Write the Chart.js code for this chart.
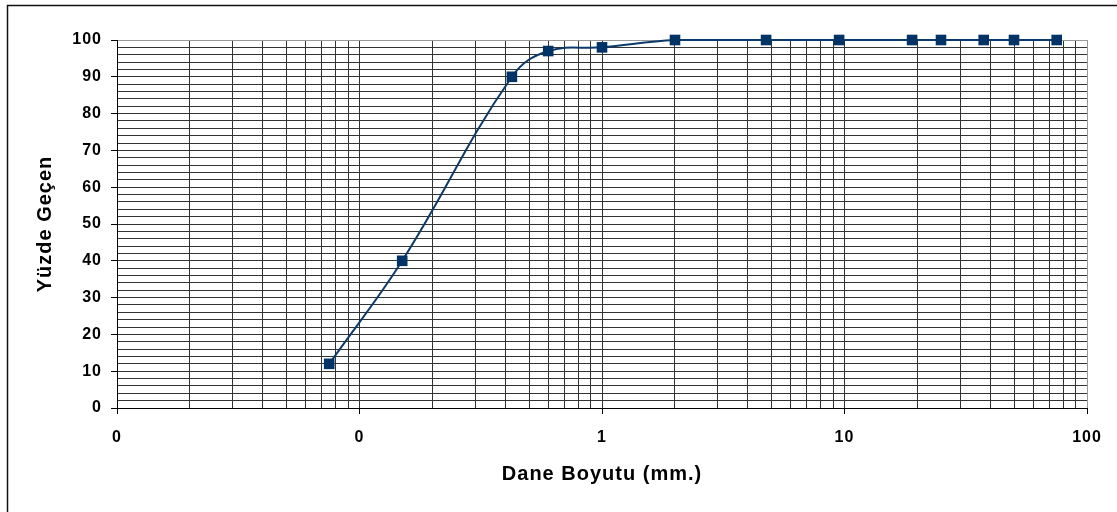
<!DOCTYPE html>
<html>
<head>
<meta charset="utf-8">
<script src="https://cdn.jsdelivr.net/npm/chart.js@4/dist/chart.umd.min.js"></script>
<style>
  html, body { margin: 0; padding: 0; background: #fff; }
  #wrap { width: 1117px; height: 512px; }
</style>
</head>
<body>
<div id="wrap"><canvas id="grading"></canvas></div>
<script>
// sieve sizes (mm) and percent passing
const sieveSizes = [0.075, 0.15, 0.425, 0.6, 1, 2, 4.75, 9.5, 19, 25, 37.5, 50, 75];
const percentPassing = [12, 40, 90, 97, 98, 100, 100, 100, 100, 100, 100, 100, 100];

// axis ticks
const decades = [0.01, 0.1, 1, 10, 100];
const multipliers = [1, 2, 3, 4, 5, 6, 7, 8, 9];
const yMajor = [0, 10, 20, 30, 40, 50, 60, 70, 80, 90, 100];

// grid values on the log axis: 1..9 x each decade, then 100
let xGrid = [];
decades.slice(0, -1).forEach(d => {
    multipliers.forEach(m => xGrid.push(+(d * m).toPrecision(3)));
});
xGrid.push(100);

const isDecade = v => decades.some(d => Math.abs(d - v) < 1e-9);

// black outer frame of the chart object
const framePlugin = {
    id: "frame",
    beforeDraw(chart) {
        const c = chart.ctx;
        c.save();
        c.fillStyle = "#fff";
        c.fillRect(0, 0, chart.width, chart.height);
        c.strokeStyle = "#111";
        c.lineWidth = 1.5;
        c.strokeRect(7.5, 5.5, 1300, 700);
        c.restore();
    }
};

// Excel draws its text a little spread out
const spacingPlugin = {
    id: "spacing",
    beforeInit(chart) { chart.ctx.letterSpacing = "1px"; },
    beforeDraw(chart) { chart.ctx.letterSpacing = "1px"; }
};

const ctx = document.getElementById("grading");

new Chart(ctx, {
    type: "line",
    data: {
        datasets: [{
            data: sieveSizes.map((s, i) => ({ x: s, y: percentPassing[i] })),
            borderColor: "#0c3a6b",
            borderWidth: 2,
            backgroundColor: "#003366",
            pointBackgroundColor: "#003366",
            pointBorderColor: "#003366",
            pointStyle: "rect",
            pointRadius: 7.5,
            pointBorderWidth: 0,
            tension: 0.4,
            clip: false
        }]
    },
    options: {
        responsive: true,
        maintainAspectRatio: false,
        animation: false,
        devicePixelRatio: 1,
        layout: { padding: { top: 40, right: 30, left: 0, bottom: 0 } },
        plugins: {
            legend: { display: false },
            tooltip: { enabled: false }
        },
        scales: {
            x: {
                type: "logarithmic",
                min: 0.01,
                max: 100,
                afterBuildTicks: axis => {
                    axis.ticks = xGrid.map(v => ({ value: v, major: isDecade(v) }));
                },
                afterFit: axis => { axis.height = 104; },
                border: { color: "#000", width: 1 },
                grid: {
                    color: c => (c.tick && c.tick.value === 100) ? "#999" : "#333",
                    lineWidth: 1,
                    tickLength: 6,
                    tickColor: c => (c.tick && isDecade(c.tick.value)) ? "#000" : "rgba(0,0,0,0)"
                },
                ticks: {
                    autoSkip: false,
                    maxRotation: 0,
                    padding: 14,
                    color: "#000",
                    font: { family: "Liberation Sans, Arial", size: 16, weight: "bold" },
                    callback: v => isDecade(v) ? String(Math.round(v)) : ""
                },
                title: {
                    display: true,
                    text: "Dane Boyutu (mm.)",
                    color: "#000",
                    padding: { top: 0, bottom: 26 },
                    font: { family: "Liberation Sans, Arial", size: 20, weight: "bold" }
                }
            },
            y: {
                min: 0,
                max: 100,
                afterFit: axis => { axis.width = 117; },
                border: { color: "#000", width: 1 },
                grid: {
                    color: c => (c.tick && c.tick.value === 100) ? "#999" : "#333",
                    lineWidth: 1,
                    tickLength: 6,
                    tickColor: c => (c.tick && yMajor.includes(c.tick.value)) ? "#000" : "rgba(0,0,0,0)"
                },
                ticks: {
                    stepSize: 2,
                    autoSkip: false,
                    padding: 9,
                    color: "#000",
                    font: { family: "Liberation Sans, Arial", size: 16, weight: "bold" },
                    callback: v => yMajor.includes(v) ? String(v) : ""
                },
                title: {
                    display: true,
                    text: "Yüzde Geçen",
                    color: "#000",
                    padding: { top: 33, bottom: 0 },
                    font: { family: "Liberation Sans, Arial", size: 20, weight: "bold" }
                }
            }
        }
    },
    plugins: [framePlugin, spacingPlugin]
});
</script>
</body>
</html>
